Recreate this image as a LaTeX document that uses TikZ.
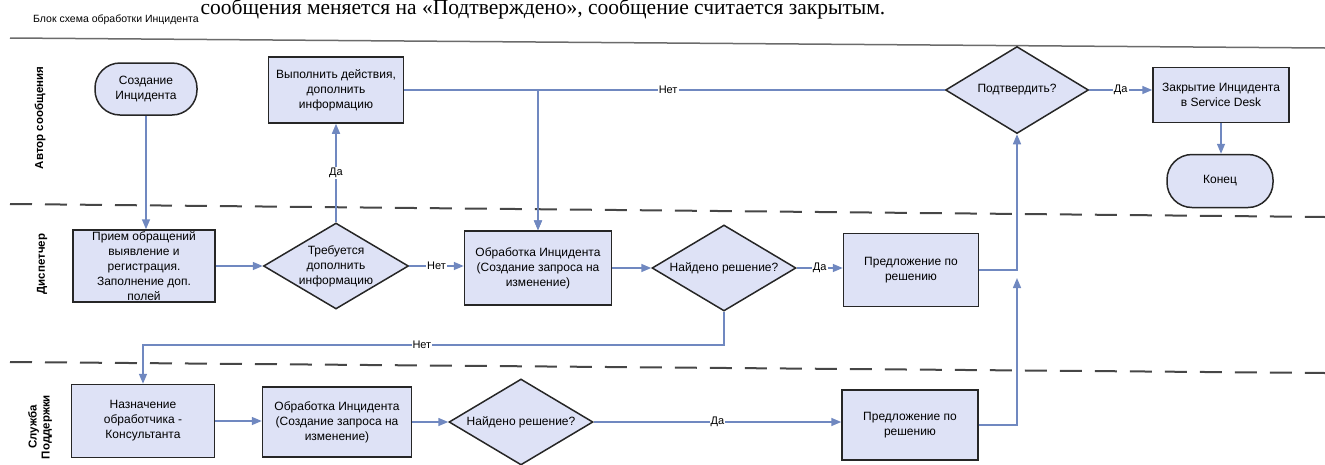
\documentclass[tikz,border=0pt]{standalone}
\usepackage{fontspec}
\setmainfont{Liberation Sans}
\newfontfamily\headfont{Liberation Serif}
\usepackage{tikz}
\usetikzlibrary{arrows.meta}
\usetikzlibrary{shapes.geometric}

\definecolor{boxfill}{RGB}{222,226,246}
\definecolor{flowline}{RGB}{112,136,192}
\definecolor{laneline}{RGB}{70,70,70}

\begin{document}
\begin{tikzpicture}[x=1pt,y=-1pt,
		font=\fontsize{12}{15}\selectfont,
		process/.style={draw=black!85, line width=1.5pt, fill=boxfill, align=center, minimum width=142pt, minimum height=72pt, inner xsep=2pt, inner ysep=0pt},
		terminal/.style={draw=black!85, line width=1.5pt, fill=boxfill, rounded corners=25pt, align=center, minimum width=102pt, minimum height=52pt},
		decision/.style={draw=black!85, line width=1.5pt, fill=boxfill, diamond, aspect=1.67, align=center, minimum width=144pt, minimum height=86pt, inner sep=0pt},
		flow/.style={draw=flowline, line width=1.5pt, -{Triangle[length=10pt,width=8pt]}},
		answer/.style={fill=white, inner sep=1pt, font=\fontsize{11}{13}\selectfont},
		lane/.style={rotate=90, align=center, font=\bfseries\fontsize{11.5}{13}\selectfont},
		divider/.style={draw=laneline, line width=2pt, dash pattern=on 22pt off 13pt}]
		\useasboundingbox (0,0) rectangle (1325,464);
		
		\node[anchor=base, inner sep=0pt, font=\headfont\fontsize{21.5}{22}\selectfont] (note) at (543,14) {сообщения меняется на «Подтверждено», сообщение считается закрытым.};
		\node[anchor=base west, inner sep=0pt, font=\fontsize{10.5}{12}\selectfont] (title) at (33,22) {Блок схема обработки Инцидента};
		
		\draw[laneline!80, line width=1.5pt] (10,38) -- (1325,48);
		\draw[divider] (10,204) -- (1325,217);
		\draw[divider] (10,362) -- (1325,373);
		
		\node[lane] (author) at (40,118) {Автор сообщения};
		\node[lane] (dispatcher) at (42,264) {Диспетчер};
		\node[lane] (support) at (40,427) {Служба\\Поддержки};
		
		\node[terminal] (start) at (146,89) {Создание\\Инцидента};
		\node[process, minimum width=135pt, minimum height=66pt] (do) at (336,90) {Выполнить действия,\\дополнить\\информацию};
		\node[decision, minimum width=143pt, minimum height=87pt] (confirm) at (1017,90) {Подтвердить?};
		\node[process, minimum width=136pt, minimum height=55pt] (close) at (1221,95) {Закрытие Инцидента\\в Service Desk};
		\node[terminal, minimum width=106pt, minimum height=53pt] (finish) at (1220,181) {Конец};
		
		\node[process] (receive) at (144,266) {Прием обращений\\выявление и\\регистрация.\\Заполнение доп.\\полей};
		\node[decision, minimum width=145pt] (need) at (336,266) {Требуется\\дополнить\\информацию};
		\node[process, minimum width=147pt, minimum height=74pt] (handle) at (538,268) {Обработка Инцидента\\(Создание запроса на\\изменение)};
		\node[decision] (found) at (724,268) {Найдено решение?};
		\node[process, minimum width=135pt, minimum height=73pt] (offer) at (911,270) {Предложение по\\решению};
		
		\node[process, minimum width=143pt, minimum height=73pt] (assign) at (143,421) {Назначение\\обработчика -\\Консультанта};
		\node[process, minimum width=149pt, minimum height=70pt] (work) at (337,422) {Обработка Инцидента\\(Создание запроса на\\изменение)};
		\node[decision] (check) at (521,422) {Найдено решение?};
		\node[process, minimum width=136pt, minimum height=70pt] (reply) at (910,425) {Предложение по\\решению};
		
		\coordinate (back) at (143,345);
		\coordinate (join) at (1017,278);
		
		\draw[flow] (start.south) -- (start.south |- receive.north);
		\draw[flow] (receive) -- (need);
		\draw[flow] (need) -- node[answer]{Да} (do);
		\draw[flow] (need) -- node[answer]{Нет} (need.east -| handle.west);
		\draw[flow] (do.east) -| (handle.north);
		\draw[flow] (confirm.west) -| node[answer, pos=0.34]{Нет} (handle.north);
		\draw[flow] (handle) -- (found);
		\draw[flow] (found) -- node[answer]{Да} (found.east -| offer.west);
		\draw[flow] (found.south) |- node[answer, pos=0.76]{Нет} (back) -- (assign.north);
		\draw[flow] (offer.east) -| (confirm.south);
		\draw[flow] (confirm.east) -- node[answer]{Да} (confirm.east -| close.west);
		\draw[flow] (close.south) -- (close.south |- finish.north);
		\draw[flow] (assign) -- (assign.east -| work.west);
		\draw[flow] (work) -- (work.east -| check.west);
		\draw[flow] (check) -- node[answer]{Да} (check.east -| reply.west);
		\draw[flow] (reply.east) -| (join);
		
\end{tikzpicture}
\end{document}
